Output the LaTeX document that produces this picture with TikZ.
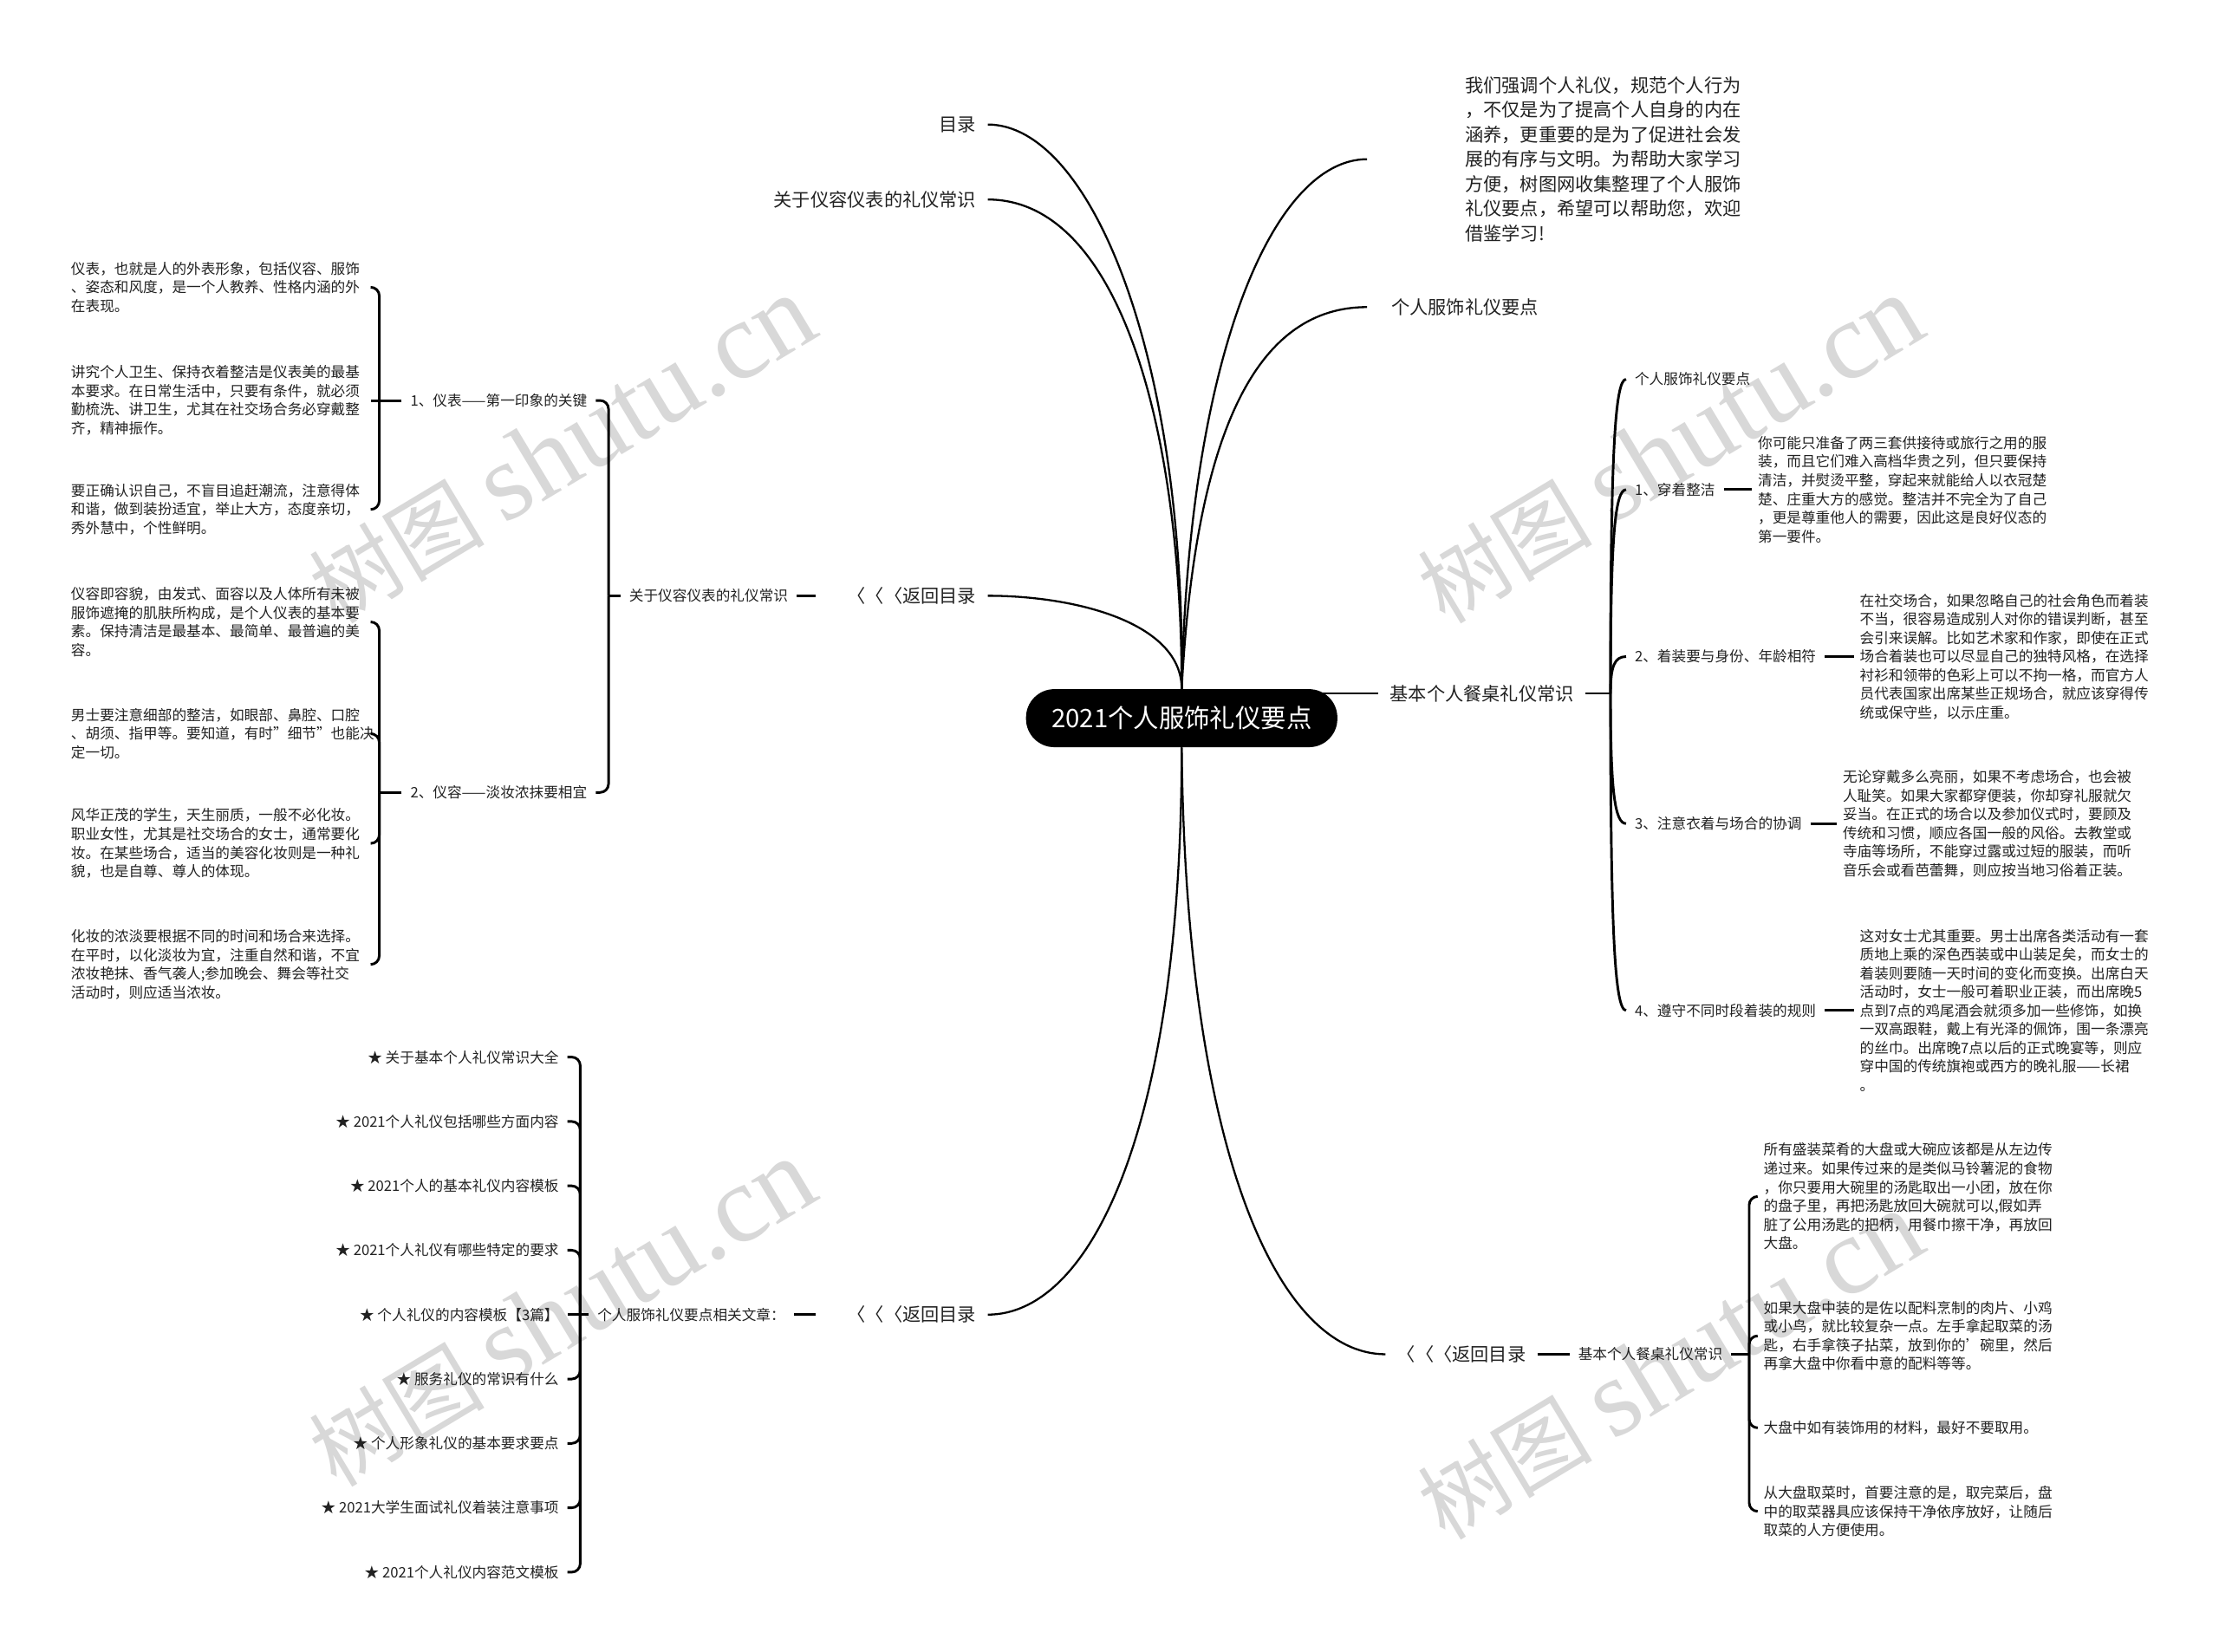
\documentclass[tikz,border=0pt]{standalone}
\usepackage{fontspec}
\setmainfont{Noto Sans CJK SC}
\newfontfamily\wmserif{Liberation Serif}
\definecolor{ink}{HTML}{222222}
\definecolor{wmgray}{HTML}{D8D8D8}
\newcommand{\wmtext}{{\fontsize{62}{62}\selectfont 树图}\hspace{14pt}{\wmserif\fontsize{78}{78}\selectfont shutu.cn}}
\begin{document}
\begin{tikzpicture}[x=1pt,y=-1pt,
  lvl/.style={font=\fontsize{13}{17.5}\selectfont, text=ink, inner xsep=8pt, inner ysep=2pt},
  sm/.style={font=\fontsize{10.2}{13.2}\selectfont, text=ink, inner xsep=6pt, inner ysep=2pt},
  para/.style={font=\fontsize{10.2}{13.2}\selectfont, text=ink, inner xsep=4pt, inner ysep=2pt, align=left, text width=208pt},
  mainline/.style={line width=1.4pt, draw=black},
  br/.style={line width=1.8pt, draw=black, rounded corners=6pt},
  cv/.style={line width=1.8pt, draw=black},
  wmark/.style={text=wmgray, rotate=31, inner sep=0pt},
  rootbox/.style={fill=black, text=white, rounded corners=20pt, minimum width=220pt, minimum height=41pt, inner sep=0pt, font=\fontsize{18}{20}\selectfont}
]
\useasboundingbox (0,0) rectangle (1568,1167);
\fill[white] (0,0) rectangle (1568,1167);

% watermarks
\node[wmark] (wm1) at (397,318) {\wmtext};
\node[wmark] (wm2) at (1180,318) {\wmtext};
\node[wmark] (wm3) at (397,928) {\wmtext};
\node[wmark] (wm4) at (1180,965) {\wmtext};

% root
\node[rootbox] (root) at (835,507.5) {2021个人服饰礼仪要点};

% ---------- upper left ----------
\node[lvl, anchor=east] (mulu) at (698,88) {目录};
\node[lvl, anchor=east] (gy) at (698,141) {关于仪容仪表的礼仪常识};
\node[lvl, anchor=east] (fh1) at (698,421) {〈〈〈返回目录};
\node[sm, anchor=east] (gy2) at (563,421) {关于仪容仪表的礼仪常识};
\node[sm, anchor=east] (yb1) at (421,283) {1、仪表——第一印象的关键};
\node[sm, anchor=east] (yb2) at (421,560) {2、仪容——淡妆浓抹要相宜};

\node[para, anchor=west] (pa) at (46,203) {仪表，也就是人的外表形象，包括仪容、服饰\\、姿态和风度，是一个人教养、性格内涵的外\\在表现。};
\node[para, anchor=west] (pb) at (46,283) {讲究个人卫生、保持衣着整洁是仪表美的最基\\本要求。在日常生活中，只要有条件，就必须\\勤梳洗、讲卫生，尤其在社交场合务必穿戴整\\齐，精神振作。};
\node[para, anchor=west] (pc) at (46,360) {要正确认识自己，不盲目追赶潮流，注意得体\\和谐，做到装扮适宜，举止大方，态度亲切，\\秀外慧中，个性鲜明。};
\node[para, anchor=west] (pd) at (46,439.5) {仪容即容貌，由发式、面容以及人体所有未被\\服饰遮掩的肌肤所构成，是个人仪表的基本要\\素。保持清洁是最基本、最简单、最普遍的美\\容。};
\node[para, anchor=west] (pe) at (46,518.5) {男士要注意细部的整洁，如眼部、鼻腔、口腔\\、胡须、指甲等。要知道，有时"细节"也能决\\定一切。};
\node[para, anchor=west] (pf) at (46,596) {风华正茂的学生，天生丽质，一般不必化妆。\\职业女性，尤其是社交场合的女士，通常要化\\妆。在某些场合，适当的美容化妆则是一种礼\\貌，也是自尊、尊人的体现。};
\node[para, anchor=west] (pg) at (46,681.5) {化妆的浓淡要根据不同的时间和场合来选择。\\在平时，以化淡妆为宜，注重自然和谐，不宜\\浓妆艳抹、香气袭人;参加晚会、舞会等社交\\活动时，则应适当浓妆。};

\coordinate (s1) at (268,283);
\coordinate (s2) at (268,560);
\coordinate (s3) at (430,421);

% ---------- lower left ----------
\node[lvl, anchor=east] (fh3) at (698,929) {〈〈〈返回目录};
\node[sm, anchor=east] (xg) at (561,929) {个人服饰礼仪要点相关文章：};
\coordinate (s6) at (410,929);
\node[sm, anchor=east] (r1) at (401,747) {★ 关于基本个人礼仪常识大全};
\node[sm, anchor=east] (r2) at (401,792.5) {★ 2021个人礼仪包括哪些方面内容};
\node[sm, anchor=east] (r3) at (401,838) {★ 2021个人的基本礼仪内容模板};
\node[sm, anchor=east] (r4) at (401,883.5) {★ 2021个人礼仪有哪些特定的要求};
\node[sm, anchor=east] (r5) at (401,929) {★ 个人礼仪的内容模板【3篇】};
\node[sm, anchor=east] (r6) at (401,974.5) {★ 服务礼仪的常识有什么};
\node[sm, anchor=east] (r7) at (401,1020) {★ 个人形象礼仪的基本要求要点};
\node[sm, anchor=east] (r8) at (401,1065.5) {★ 2021大学生面试礼仪着装注意事项};
\node[sm, anchor=east] (r9) at (401,1111) {★ 2021个人礼仪内容范文模板};

% ---------- upper right ----------
\node[para, font=\fontsize{13}{17.5}\selectfont, text width=200pt, anchor=west] (intro) at (1031,112.5) {我们强调个人礼仪，规范个人行为\\，不仅是为了提高个人自身的内在\\涵养，更重要的是为了促进社会发\\展的有序与文明。为帮助大家学习\\方便，树图网收集整理了个人服饰\\礼仪要点，希望可以帮助您，欢迎\\借鉴学习!};
\node[lvl, anchor=west] (gr) at (975,217) {个人服饰礼仪要点};
\node[lvl, anchor=west] (jz) at (974,490) {基本个人餐桌礼仪常识};
\coordinate (s4) at (1138,490);
\node[sm, anchor=west] (c0) at (1149,268) {个人服饰礼仪要点};
\node[sm, anchor=west] (c1) at (1149,346) {1、穿着整洁};
\node[sm, anchor=west] (c2) at (1149,464) {2、着装要与身份、年龄相符};
\node[sm, anchor=west] (c3) at (1149,582) {3、注意衣着与场合的协调};
\node[sm, anchor=west] (c4) at (1149,714) {4、遵守不同时段着装的规则};

\node[para, anchor=west] (p1) at (1238,346) {你可能只准备了两三套供接待或旅行之用的服\\装，而且它们难入高档华贵之列，但只要保持\\清洁，并熨烫平整，穿起来就能给人以衣冠楚\\楚、庄重大方的感觉。整洁并不完全为了自己\\，更是尊重他人的需要，因此这是良好仪态的\\第一要件。};
\node[para, anchor=west] (p2) at (1310,464) {在社交场合，如果忽略自己的社会角色而着装\\不当，很容易造成别人对你的错误判断，甚至\\会引来误解。比如艺术家和作家，即使在正式\\场合着装也可以尽显自己的独特风格，在选择\\衬衫和领带的色彩上可以不拘一格，而官方人\\员代表国家出席某些正规场合，就应该穿得传\\统或保守些，以示庄重。};
\node[para, anchor=west] (p3) at (1298,582) {无论穿戴多么亮丽，如果不考虑场合，也会被\\人耻笑。如果大家都穿便装，你却穿礼服就欠\\妥当。在正式的场合以及参加仪式时，要顾及\\传统和习惯，顺应各国一般的风俗。去教堂或\\寺庙等场所，不能穿过露或过短的服装，而听\\音乐会或看芭蕾舞，则应按当地习俗着正装。};
\node[para, anchor=west] (p4) at (1310,714) {这对女士尤其重要。男士出席各类活动有一套\\质地上乘的深色西装或中山装足矣，而女士的\\着装则要随一天时间的变化而变换。出席白天\\活动时，女士一般可着职业正装，而出席晚5\\点到7点的鸡尾酒会就须多加一些修饰，如换\\一双高跟鞋，戴上有光泽的佩饰，围一条漂亮\\的丝巾。出席晚7点以后的正式晚宴等，则应\\穿中国的传统旗袍或西方的晚礼服——长裙\\。};

% ---------- lower right ----------
\node[lvl, anchor=west] (fh2) at (979,957) {〈〈〈返回目录};
\node[sm, anchor=west] (jz2) at (1109,957) {基本个人餐桌礼仪常识};
\coordinate (s5) at (1236,957);
\node[para, anchor=west] (q1) at (1242,845.5) {所有盛装菜肴的大盘或大碗应该都是从左边传\\递过来。如果传过来的是类似马铃薯泥的食物\\，你只要用大碗里的汤匙取出一小团，放在你\\的盘子里，再把汤匙放回大碗就可以,假如弄\\脏了公用汤匙的把柄，用餐巾擦干净，再放回\\大盘。};
\node[para, anchor=west] (q2) at (1242,944) {如果大盘中装的是佐以配料烹制的肉片、小鸡\\或小鸟，就比较复杂一点。左手拿起取菜的汤\\匙，右手拿筷子拈菜，放到你的'碗里，然后\\再拿大盘中你看中意的配料等等。};
\node[para, anchor=west] (q3) at (1242,1009) {大盘中如有装饰用的材料，最好不要取用。};
\node[para, anchor=west] (q4) at (1242,1068) {从大盘取菜时，首要注意的是，取完菜后，盘\\中的取菜器具应该保持干净依序放好，让随后\\取菜的人方便使用。};

% ---------- main curves ----------
\draw[mainline] (root.north) .. controls (838,250) and (770,88) .. (mulu.east);
\draw[mainline] (root.north) .. controls (835,300) and (790,141) .. (gy.east);
\draw[mainline] (root.north) .. controls (835,440) and (760,421) .. (fh1.east);
\draw[mainline] (root.north) .. controls (840,250) and (900,112.5) .. ([xshift=-65pt]intro.west);
\draw[mainline] (root.north) .. controls (845,300) and (890,217) .. ([xshift=-9pt]gr.west);
\draw[mainline] ([xshift=-12pt]root.east |- jz.west) -- (jz.west);
\draw[mainline] (root.south) .. controls (835,800) and (770,929) .. (fh3.east);
\draw[mainline] (root.south) .. controls (838,820) and (905,957) .. (fh2.west);

% ---------- upper left branches ----------
\draw[br] (gy2.east) -- ([xshift=-14pt]fh1.west);
\draw[br] (gy2.west) -- (s3);
\draw[br] (s3) |- (yb1.east);
\draw[br] (s3) |- (yb2.east);
\draw[br] (yb1.west) -- (pb.east);
\draw[br] (s1) |- (pa.east);
\draw[br] (s1) |- (pc.east);
\draw[br] (yb2.west) -- (s2);
\draw[br] (s2) |- (pd.east);
\draw[br] (s2) |- (pe.east);
\draw[br] (s2) |- (pf.east);
\draw[br] (s2) |- (pg.east);

% ---------- lower left branches ----------
\draw[br] (xg.east) -- ([xshift=-14pt]fh3.west);
\draw[br] (xg.west) -- (r5.east);
\draw[br] (s6) |- (r1.east);
\draw[br] (s6) |- (r2.east);
\draw[br] (s6) |- (r3.east);
\draw[br] (s6) |- (r4.east);
\draw[br] (s6) |- (r6.east);
\draw[br] (s6) |- (r7.east);
\draw[br] (s6) |- (r8.east);
\draw[br] (s6) |- (r9.east);

% ---------- upper right branches ----------
\draw[cv] (jz.east) -- (s4);
\draw[cv] (s4) .. controls (1138,323.5) and (1141,268) .. (c0.west);
\draw[cv] (s4) .. controls (1138,382) and (1141,346) .. (c1.west);
\draw[cv] (s4) .. controls (1138,470.5) and (1141,464) .. (c2.west);
\draw[cv] (s4) .. controls (1138,559) and (1141,582) .. (c3.west);
\draw[cv] (s4) .. controls (1138,658) and (1141,714) .. (c4.west);
\draw[br] (c1.east) -- (p1.west);
\draw[br] (c2.east) -- (p2.west);
\draw[br] (c3.east) -- (p3.west);
\draw[br] (c4.east) -- (p4.west);

% ---------- lower right branches ----------
\draw[br] (fh2.east) -- (jz2.west);
\draw[br] (jz2.east) -- (s5);
\draw[br] (s5) |- (q1.west);
\draw[br] (s5) |- (q2.west);
\draw[br] (s5) |- (q3.west);
\draw[br] (s5) |- (q4.west);
\end{tikzpicture}
\end{document}
